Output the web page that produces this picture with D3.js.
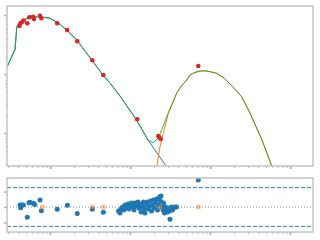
<!DOCTYPE html>
<html><head><meta charset="utf-8">
<script src="https://cdn.jsdelivr.net/npm/d3@7"></script>
<style>html,body{margin:0;padding:0;background:#fff;} svg{display:block;}</style>
</head><body><svg id="c" width="320" height="240"></svg>
<script>
// ---- data ----
const totalX = [2.92,3.48,3.65,3.76,3.84,4.02,4.47,5.16,6.13,7.50,10.0,12.6,16.2,21.6,33.2,46.0,56.2,75.0,121,168,195,224,249,288,384,434,512,562,649,750,866,1000,1213,1496,1939,2489,3162,4467,6310];
const totalY = [0.133,0.227,0.255,0.429,0.634,0.703,0.791,0.873,0.925,0.935,0.879,0.740,0.557,0.377,0.173,0.0962,0.0703,0.0424,0.0166,0.0076,0.00685,0.00813,0.01125,0.0189,0.0476,0.0614,0.0791,0.0962,0.106,0.1125,0.113,0.1094,0.1028,0.0855,0.0603,0.0412,0.0218,0.0076,0.00218];
const comp1X = [2.92,3.48,3.65,3.76,3.84,4.02,4.47,5.16,6.13,7.50,10.0,12.6,16.2,21.6,33.2,46.0,56.2,75.0,121,168,316];
const comp1Y = [0.133,0.227,0.255,0.429,0.634,0.703,0.791,0.873,0.925,0.935,0.879,0.740,0.557,0.377,0.173,0.0962,0.0703,0.0424,0.0166,0.0076,0.00222];
const comp2X = [211,216,237,261,301,384,434,512,562,649,750,866,1000,1213,1496,1939,2489,3162,4467,6310];
const comp2Y = [0.00221,0.00268,0.00586,0.00989,0.0216,0.0476,0.0614,0.0791,0.0962,0.106,0.1125,0.113,0.1094,0.1028,0.0855,0.0603,0.0412,0.0218,0.0076,0.00218];
const obsX = [4.16,4.28,4.47,4.67,5.20,5.51,6.13,6.31,7.50,7.79,12.3,16.4,21.9,33.8,46.4,123,226,232,242,714];
const obsY = [0.652,0.723,0.760,0.807,0.723,0.914,0.935,0.855,0.973,0.879,0.723,0.557,0.358,0.171,0.0962,0.0171,0.00890,0.00846,0.00791,0.137];
const resX = [4.22,4.30,4.43,4.64,5.20,5.46,5.62,6.18,6.44,7.50,7.79,12.3,16.5,21.9,33.8,46.4,
  71.8,75.0,77.2,80.6,84.1,86.6,90.4,94.4,97.2,100,104.4,109.0,112.2,115.5,120.6,125.9,129.6,133.4,137.3,143.3,147.5,149.6,154.0,160.8,165.5,170.3,175.4,180.4,185.7,191.1,196.7,202.5,208.4,214.5,220.8,227.2,233.9,240.7,244.2,251.2,258.5,262.3,270.0,277.8,285.9,294.3,302.9,311.7,320.8,330.2,339.8,349.8,365.2,381.3,
  316,714];
const resY = [0.13,-0.05,0.13,0.13,-0.66,0.28,0.30,0.24,0.17,0.45,-0.24,-0.15,0.11,-0.41,-0.15,-0.34,
  -0.26,-0.39,-0.13,0,-0.19,0.13,-0.06,0.19,-0.13,0.06,0.26,0,-0.19,0.26,0.06,0.32,-0.06,0.19,-0.32,0.06,0.32,-0.13,-0.39,0.13,0.32,-0.13,0.06,0.39,-0.26,0.13,0.45,-0.06,0.26,0.52,-0.19,0.13,0.65,0.39,0.71,0,-0.19,0.26,-0.39,0,-0.19,-0.32,-0.06,-0.26,-0.13,0,-0.19,-0.06,0,0,
  -0.79,1.74];
const maskX = [8.01,33.8,46.4,237,714];
const maskY = [0,0,0,0,0];
const resBand = [-1.25,1.25];
const resTicks = [-1,0,1];
const xMajor = [10,100,1000,10000];
const yMajor = [0.01,0.1,1];

// ---- drawing ----
const svg = d3.select('#c');
svg.append('rect').attr('width',320).attr('height',240).attr('fill','#fff');
const L=7,R=313,T1=6,B1=166,T2=178,B2=232;
const x = d3.scaleLog().domain([2.90,19390]).range([L,R]);
const y1 = d3.scaleLog().domain([0.00276,1.42]).range([B1,T1]);
const y2 = d3.scaleLinear().domain([-1.61,1.87]).range([B2,T2]);
const grey='#c4c4c4';

svg.append('clipPath').attr('id','cp1').append('rect').attr('x',L).attr('y',T1).attr('width',R-L).attr('height',B1-T1);
svg.append('clipPath').attr('id','cp2').append('rect').attr('x',L-3).attr('y',T2-3).attr('width',R-L+6).attr('height',B2-T2+6);

const xMinor = x.ticks().filter(v=>!xMajor.includes(v));
const y1Minor = y1.ticks().filter(v=>!yMajor.some(m=>Math.abs(m-v)/m<1e-6));

function styleAxis(g){ g.select('.domain').remove(); g.selectAll('line').attr('stroke','#b4b4b4'); }

// top panel axes
svg.append('g').attr('transform',`translate(0,${B1})`).call(d3.axisBottom(x).tickValues(xMinor).tickSize(2).tickFormat('')).call(styleAxis).selectAll('line').attr('stroke-width',1);
svg.append('g').attr('transform',`translate(0,${B1})`).call(d3.axisBottom(x).tickValues(xMajor).tickSize(3).tickFormat('')).call(styleAxis).selectAll('line').attr('stroke-width',2);
svg.append('g').attr('transform',`translate(${L},0)`).call(d3.axisLeft(y1).tickValues(y1Minor).tickSize(1.5).tickFormat('')).call(styleAxis).selectAll('line').attr('stroke-width',1);
svg.append('g').attr('transform',`translate(${L},0)`).call(d3.axisLeft(y1).tickValues(yMajor).tickSize(3).tickFormat('')).call(styleAxis).selectAll('line').attr('stroke-width',1.5);
// bottom panel axes
svg.append('g').attr('transform',`translate(0,${B2})`).call(d3.axisBottom(x).tickValues(xMinor).tickSize(2).tickFormat('')).call(styleAxis).selectAll('line').attr('stroke-width',1);
svg.append('g').attr('transform',`translate(0,${B2})`).call(d3.axisBottom(x).tickValues(xMajor).tickSize(3).tickFormat('')).call(styleAxis).selectAll('line').attr('stroke-width',2);
svg.append('g').attr('transform',`translate(${L},0)`).call(d3.axisLeft(y2).tickValues(resTicks).tickSize(3).tickFormat('')).call(styleAxis).selectAll('line').attr('stroke-width',1.5);

// top panel curves
const g1 = svg.append('g').attr('clip-path','url(#cp1)');
const line = (xs,ys)=>d3.line().x((d,i)=>x(xs[i])).y((d,i)=>y1(ys[i]))(xs);
g1.append('path').attr('d',line(comp1X,comp1Y)).attr('fill','none').attr('stroke','#1f77b4').attr('stroke-width',1);
g1.append('path').attr('d',line(comp2X,comp2Y)).attr('fill','none').attr('stroke','#ff7f0e').attr('stroke-width',1);
g1.append('path').attr('d',line(totalX,totalY)).attr('fill','none').attr('stroke','#2ca02c').attr('stroke-width',1).attr('stroke-opacity',0.9);
svg.append('g').selectAll('circle').data(obsX).join('circle')
  .attr('cx',(d,i)=>x(obsX[i])).attr('cy',(d,i)=>y1(obsY[i])).attr('r',2.3).attr('fill','#d62728');

// bottom panel
const g2 = svg.append('g').attr('clip-path','url(#cp2)');
resBand.forEach(v=>{
  g2.append('line').attr('x1',L).attr('x2',R).attr('y1',y2(v)).attr('y2',y2(v))
    .attr('stroke','#2f7fbd').attr('stroke-width',1).attr('stroke-dasharray','4,2');
});
g2.append('line').attr('x1',L).attr('x2',R).attr('y1',y2(0)).attr('y2',y2(0))
  .attr('stroke','#6f8fb0').attr('stroke-width',1).attr('stroke-dasharray','1,2');
g2.selectAll('circle.r').data(resX).join('circle').attr('class','r')
  .attr('cx',(d,i)=>x(resX[i])).attr('cy',(d,i)=>y2(resY[i])).attr('r',2.5).attr('fill','#1f77b4');
g2.selectAll('circle.m').data(maskX).join('circle').attr('class','m')
  .attr('cx',(d,i)=>x(maskX[i])).attr('cy',(d,i)=>y2(maskY[i])).attr('r',2.5).attr('fill','#ff7f0e').attr('fill-opacity',0.5);

// spines
[[T1,B1],[T2,B2]].forEach(([t,b])=>{
  svg.append('rect').attr('x',L).attr('y',t).attr('width',R-L).attr('height',b-t)
    .attr('fill','none').attr('stroke',grey).attr('stroke-width',1.5);
});
</script></body></html>
